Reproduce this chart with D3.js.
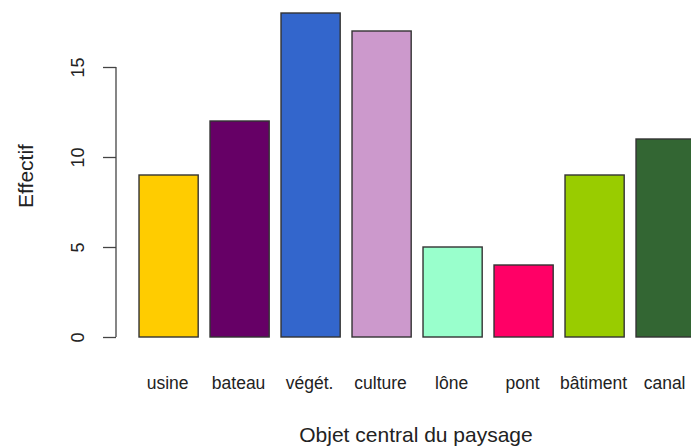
<!DOCTYPE html>
<html>
<head>
<meta charset="utf-8">
<script src="https://cdn.jsdelivr.net/npm/d3@7"></script>
<style>
  html, body { margin: 0; padding: 0; background: #fff; }
  svg { display: block; font-family: "Liberation Sans", Arial, sans-serif; }
</style>
</head>
<body>
<div id="chart"></div>
<script>
const categories = ["usine", "bateau", "végét.", "culture", "lône", "pont", "bâtiment", "canal"];
const counts = [9, 12, 18, 17, 5, 4, 9, 11];
const barColors = ["#ffcc00", "#660066", "#3366cc", "#cc99cc", "#99ffcc", "#ff0066", "#99cc00", "#336633"];
const yTicks = [0, 5, 10, 15];

const width = 691;
const height = 446;

const svg = d3.select("#chart")
  .append("svg")
  .attr("width", width)
  .attr("height", height);

// R barplot: width 1, space 0.2
const step = 71;
const x = d3.scaleBand()
  .domain(categories)
  .range([133.1, 133.1 + step * categories.length])
  .paddingInner(0.2 / 1.2)
  .paddingOuter(0.1 / 1.2);

const y = d3.scaleLinear()
  .domain([0, 18])
  .range([337, 13]);

svg.append("g")
  .selectAll("rect")
  .data(categories)
  .join("rect")
  .attr("x", (d) => x(d))
  .attr("y", (d, i) => y(counts[i]))
  .attr("width", x.bandwidth())
  .attr("height", (d, i) => y(0) - y(counts[i]))
  .attr("fill", (d, i) => barColors[i])
  .attr("stroke", "#333")
  .attr("stroke-width", 1.4);

// y axis
const axisX = 116;
const yAxis = svg.append("g")
  .attr("transform", `translate(${axisX},0)`)
  .call(d3.axisLeft(y).tickValues(yTicks).tickSize(13).tickSizeOuter(0).tickPadding(0));
yAxis.select(".domain")
  .attr("d", `M0,${y(0)}V${y(15)}`)
  .attr("stroke", "#444")
  .attr("stroke-width", 1.3);
yAxis.selectAll(".tick line").attr("stroke", "#444").attr("stroke-width", 1.3);
yAxis.selectAll(".tick text")
  .attr("transform", null)
  .attr("x", null)
  .attr("dy", null)
  .attr("font-size", 18)
  .attr("fill", "#222")
  .attr("text-anchor", "middle")
  .attr("transform", "translate(-32,0) rotate(-90)");

// category labels
svg.append("g")
  .selectAll("text")
  .data(categories)
  .join("text")
  .attr("x", (d) => x(d) + x.bandwidth() / 2 - 1)
  .attr("y", 389)
  .attr("text-anchor", "middle")
  .attr("font-size", 17.5)
  .attr("fill", "#222")
  .text((d) => d);

// axis titles
svg.append("text")
  .attr("x", 416)
  .attr("y", 442)
  .attr("text-anchor", "middle")
  .attr("font-size", 21)
  .attr("fill", "#222")
  .text("Objet central du paysage");

svg.append("text")
  .attr("transform", "translate(33,176) rotate(-90)")
  .attr("text-anchor", "middle")
  .attr("font-size", 21)
  .attr("fill", "#222")
  .text("Effectif");
</script>
</body>
</html>
